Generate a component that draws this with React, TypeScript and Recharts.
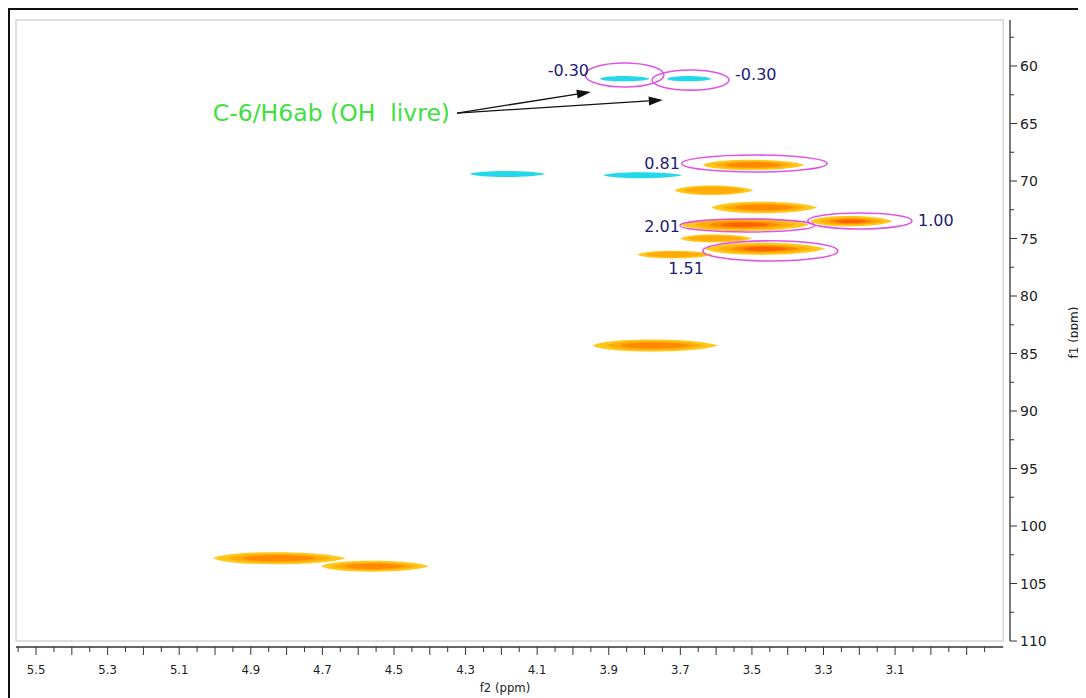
import React from 'react';
import { ScatterChart, XAxis, YAxis, ReferenceArea, ReferenceLine, ReferenceDot } from 'recharts';

// axis ranges (ppm)
const F2_LEFT = 5.556;
const F2_RIGHT = 2.779;
const F2_FRAME_END = 2.798;
const F1_TOP = 56;
const F1_BOTTOM = 110.52;
const F1_AXIS_END = 110;

// cross peaks: f2 centre, f1 centre, width (ppm), thickness (ppm), level (<0 = negative phase)
const peakF2 = [3.855, 3.675, 4.183, 3.805, 3.495, 3.606, 3.465, 3.52, 3.222, 3.6, 3.715, 3.463, 3.77, 4.82, 4.553];
const peakF1 = [61.1, 61.1, 69.4, 69.5, 68.6, 70.8, 72.3, 73.8, 73.5, 75.0, 76.4, 75.9, 84.3, 102.8, 103.5];
const peakWidth = [0.14, 0.125, 0.21, 0.22, 0.285, 0.22, 0.295, 0.36, 0.23, 0.2, 0.21, 0.335, 0.35, 0.37, 0.3];
const peakThick = [0.45, 0.45, 0.5, 0.5, 0.85, 0.8, 0.95, 1.05, 0.85, 0.65, 0.65, 1.0, 1.0, 1.0, 0.9];
const peakLevel = [-1, -1, -1, -1, 2, 1, 2, 3, 3, 1, 1, 3, 2, 2, 2];

// integration ellipses
const circF2a = [3.966, 3.779, 3.696, 3.701, 3.344, 3.637];
const circF2b = [3.746, 3.564, 3.29, 3.324, 3.053, 3.26];
const circF1a = [59.74, 60.35, 67.74, 73.3, 72.78, 75.2];
const circF1b = [61.83, 62.1, 69.22, 74.43, 74.17, 76.96];

// integration values
const integText = ['-0.30', '-0.30', '0.81', '2.01', '1.00', '1.51'];
const integF2 = [3.955, 3.547, 3.701, 3.701, 3.036, 3.684];
const integF1 = [60.43, 60.78, 68.48, 73.97, 73.4, 77.57];
const integAnchor = ['end', 'start', 'end', 'end', 'start', 'middle'];

// annotation
const noteText = 'C-6/H6ab (OH  livre)';
const noteF2 = 5.006;
const noteF1 = 64.09;
const arrowFrom = { x: 4.324, y: 64.09 };
const arrowToF2 = [3.95, 3.749];
const arrowToF1 = [62.26, 62.96];

const xTicks: number[] = [];
for (let h = 285; h <= 555; h += 5) xTicks.push(h / 100);
const yTicks: number[] = [];
for (let t = 575; t <= 1100; t += 25) yTicks.push(t / 10);

const PALETTE = ['#ffc71a', '#ffab0a', '#ff8a00', '#ff6200'];
const CYAN = '#22d8ea';

// tapered blob with a flat body
const blob = (x: number, y: number, w: number, h: number) => {
  const cy = y + h / 2;
  const t = h * 0.7;
  return (
    `M${x},${cy} ` +
    `C${x + w * 0.1},${cy - t} ${x + w * 0.82},${cy - t} ${x + w},${cy} ` +
    `C${x + w * 0.82},${cy + t} ${x + w * 0.1},${cy + t} ${x},${cy} Z`
  );
};

const makePeakShape = (level: number) => (props: any) => {
  const { x, y, width, height } = props;
  if (level < 0) {
    return <path d={blob(x, y, width, height)} fill={CYAN} />;
  }
  const scales = [[1, 1], [0.78, 0.7], [0.56, 0.5], [0.38, 0.36]];
  return (
    <g>
      {scales.slice(0, level + 1).map(([sw, sh], i) => {
        const w = width * sw;
        const h = height * sh;
        return <path key={i} d={blob(x + (width - w) * 0.5, y + (height - h) / 2, w, h)} fill={PALETTE[i]} />;
      })}
    </g>
  );
};

const EllipseShape = (props: any) => {
  const { x, y, width, height } = props;
  return <ellipse cx={x + width / 2} cy={y + height / 2} rx={width / 2} ry={height / 2} fill="none" stroke="#e055e0" strokeWidth={1.6} />;
};

const FrameShape = (props: any) => {
  const { x, y, width, height } = props;
  return <rect x={x} y={y} width={width} height={height} fill="none" stroke="#d4d4d4" strokeWidth={1.5} />;
};

const ArrowShape = (props: any) => {
  const { x1, y1, x2, y2 } = props;
  const a = Math.atan2(y2 - y1, x2 - x1);
  const L = 14;
  const W = 4.5;
  const bx = x2 - L * Math.cos(a);
  const by = y2 - L * Math.sin(a);
  const px = -Math.sin(a) * W;
  const py = Math.cos(a) * W;
  return (
    <g>
      <line x1={x1} y1={y1} x2={bx} y2={by} stroke="#111" strokeWidth={1.3} />
      <polygon points={`${x2},${y2} ${bx + px},${by + py} ${bx - px},${by - py}`} fill="#111" />
    </g>
  );
};

const XTick = (props: any) => {
  const { x, y, payload } = props;
  const h = Math.round(payload.value * 100);
  const major = h % 10 === 0;
  const labeled = h % 20 === 10 && h >= 300;
  return (
    <g>
      <line x1={x} x2={x} y1={y} y2={y + (major ? 8 : 5)} stroke="#333" />
      {labeled && (
        <text x={x} y={y + 27} textAnchor="middle" fontSize={13} fill="#222" fontFamily="DejaVu Sans Condensed">
          {payload.value.toFixed(1)}
        </text>
      )}
    </g>
  );
};

const YTick = (props: any) => {
  const { x, y, payload } = props;
  const major = payload.value % 5 === 0;
  return (
    <g>
      <line x1={x} x2={x + (major ? 7 : 4)} y1={y} y2={y} stroke="#333" />
      {major && (
        <text x={x + 10} y={y} dominantBaseline="central" fontSize={14} fill="#222" fontFamily="DejaVu Sans">
          {payload.value}
        </text>
      )}
    </g>
  );
};

const XLabel = (props: any) => {
  const { x, y, width } = props.viewBox;
  return (
    <text x={x + width / 2 - 8} y={y + 40} textAnchor="middle" dominantBaseline="central" fontSize={13} fill="#222" fontFamily="DejaVu Sans Condensed">
      f2 (ppm)
    </text>
  );
};

const YLabel = (props: any) => {
  const { x, y, height } = props.viewBox;
  const cx = x + 64;
  const cy = y + height / 2 - 1;
  return (
    <text x={cx} y={cy} textAnchor="middle" dominantBaseline="central" fontSize={12} fill="#222" fontFamily="DejaVu Sans" transform={`rotate(-90 ${cx} ${cy})`}>
      f1 (ppm)
    </text>
  );
};

const makeTextShape = (text: string, anchor: string, size: number, color: string) => (props: any) => {
  const { cx, cy } = props;
  return (
    <text x={cx} y={cy} textAnchor={anchor} dominantBaseline="central" fontSize={size} fill={color} fontFamily="DejaVu Sans" style={{ whiteSpace: 'pre' }}>
      {text}
    </text>
  );
};

export default function App() {
  return (
    <div style={{ width: 1078, height: 692, overflow: 'hidden', boxSizing: 'border-box', borderTop: '2px solid #111', borderLeft: '2px solid #111', background: '#fff' }}>
      <style>{'html, body { overflow: hidden; }'}</style>
      <ScatterChart width={1076} height={690} margin={{ top: 10, right: 16, bottom: 1, left: 6 }}>
        <XAxis
          type="number"
          dataKey="x"
          domain={[F2_RIGHT, F2_LEFT]}
          reversed
          allowDataOverflow
          ticks={xTicks}
          interval={0}
          tick={<XTick />}
          tickLine={false}
          axisLine={false}
          tickSize={0}
          tickMargin={0}
          height={52}
          label={XLabel}
        />
        <YAxis
          type="number"
          dataKey="y"
          orientation="right"
          domain={[F1_TOP, F1_BOTTOM]}
          reversed
          allowDataOverflow
          ticks={yTicks}
          interval={0}
          tick={<YTick />}
          tickLine={false}
          axisLine={false}
          tickSize={0}
          tickMargin={0}
          width={60}
          label={YLabel}
        />
        <ReferenceArea x1={F2_LEFT} x2={F2_FRAME_END} y1={F1_TOP} y2={F1_AXIS_END} shape={FrameShape} ifOverflow="visible" />
        <ReferenceLine segment={[{ x: F2_RIGHT, y: F1_TOP }, { x: F2_RIGHT, y: F1_AXIS_END }]} stroke="#333" strokeWidth={1.3} ifOverflow="visible" />
        <ReferenceLine segment={[{ x: F2_LEFT, y: F1_BOTTOM }, { x: F2_FRAME_END, y: F1_BOTTOM }]} stroke="#333" strokeWidth={1.5} ifOverflow="visible" />
        {peakF2.map((f2, i) => (
          <ReferenceArea
            key={`p${i}`}
            x1={f2 + peakWidth[i] / 2}
            x2={f2 - peakWidth[i] / 2}
            y1={peakF1[i] - peakThick[i] / 2}
            y2={peakF1[i] + peakThick[i] / 2}
            shape={makePeakShape(peakLevel[i])}
            ifOverflow="visible"
          />
        ))}
        {circF2a.map((a, i) => (
          <ReferenceArea key={`c${i}`} x1={a} x2={circF2b[i]} y1={circF1a[i]} y2={circF1b[i]} shape={EllipseShape} ifOverflow="visible" />
        ))}
        {integText.map((t, i) => (
          <ReferenceDot key={`t${i}`} x={integF2[i]} y={integF1[i]} r={0} shape={makeTextShape(t, integAnchor[i], 16, '#1c1c78')} ifOverflow="visible" />
        ))}
        {arrowToF2.map((f2, i) => (
          <ReferenceLine key={`a${i}`} segment={[arrowFrom, { x: f2, y: arrowToF1[i] }]} shape={ArrowShape} ifOverflow="visible" />
        ))}
        <ReferenceDot x={noteF2} y={noteF1} r={0} shape={makeTextShape(noteText, 'start', 23.5, '#3ee03e')} ifOverflow="visible" />
      </ScatterChart>
    </div>
  );
}
